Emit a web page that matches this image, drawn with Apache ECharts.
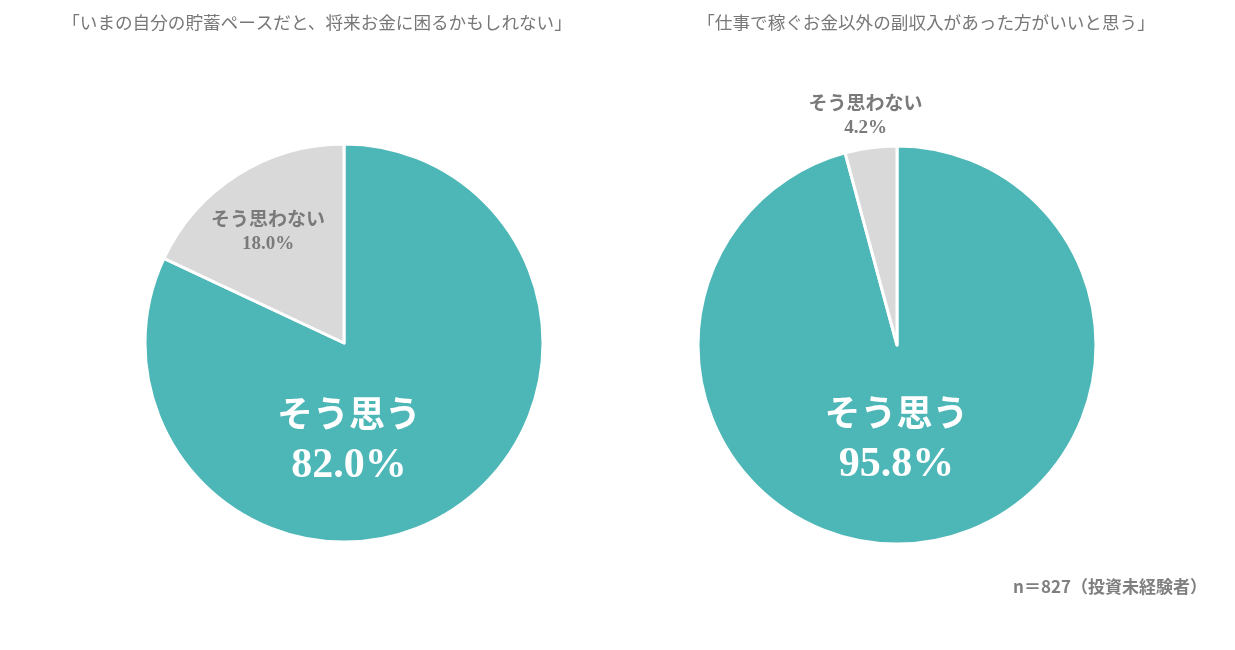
<!DOCTYPE html>
<html><head><meta charset="utf-8">
<script src="https://cdn.jsdelivr.net/npm/echarts@6/dist/echarts.min.js"></script>
<style>html,body{margin:0;padding:0;background:#fff}#c{width:1235px;height:650px}</style>
</head><body><div id="c"></div>
<script>
const titles = ['「いまの自分の貯蓄ペースだと、将来お金に困るかもしれない」', '「仕事で稼ぐお金以外の副収入があった方がいいと思う」'];
const categories = ['そう思う', 'そう思わない'];
const valuesLeft = [82.0, 18.0];
const valuesRight = [95.8, 4.2];
const note = 'n＝827（投資未経験者）';

const colors = ['#4db6b6', '#d9d9d9'];
const CJK = '"Noto Sans CJK JP", sans-serif';
const NUM = '"Liberation Serif", serif';

function bigLabel(offset) {
  return {
    show: true, position: 'inside', offset: offset,
    formatter: p => '{a|' + p.name + '}\n{b|' + p.value.toFixed(1) + '%}',
    rich: {
      a: { fontFamily: CJK, fontWeight: 'bold', fontSize: 36, color: '#fff', lineHeight: 56 },
      b: { fontFamily: NUM, fontWeight: 'bold', fontSize: 42, color: '#fff', lineHeight: 50 }
    }
  };
}
function smallLabel(offset) {
  return {
    show: true, position: 'inside', offset: offset,
    formatter: p => '{a|' + p.name + '}\n{b|' + p.value.toFixed(1) + '%}',
    rich: {
      a: { fontFamily: CJK, fontWeight: 'bold', fontSize: 19, color: '#7a7a7a', lineHeight: 28 },
      b: { fontFamily: NUM, fontWeight: 'bold', fontSize: 19, color: '#7a7a7a', lineHeight: 24 }
    }
  };
}
function mk(vals, center, labels) {
  return {
    type: 'pie', center: center, radius: 199, startAngle: 90, clockwise: true,
    avoidLabelOverlap: false, labelLine: { show: false },
    itemStyle: { borderColor: '#fff', borderWidth: 3 },
    emphasis: { disabled: true },
    data: categories.map((c, i) => ({ name: c, value: vals[i], itemStyle: { color: colors[i] }, label: labels[i] }))
  };
}

const chart = echarts.init(document.getElementById('c'), null, { renderer: 'canvas' });
chart.setOption({
  animation: false,
  title: [
    { text: titles[0], left: 312, top: 9, textAlign: 'center', textStyle: { fontFamily: CJK, fontSize: 17.6, fontWeight: 'normal', color: '#777' } },
    { text: titles[1], left: 921, top: 9, textAlign: 'center', textStyle: { fontFamily: CJK, fontSize: 17.6, fontWeight: 'normal', color: '#777' } },
    { text: note, left: 1008, top: 573, textStyle: { fontFamily: CJK, fontSize: 17, fontWeight: 'bold', color: '#7f7f7f' } }
  ],
  series: [
    mk(valuesLeft, [344, 343], [bigLabel([-50, 9]), smallLabel([-21, -26])]),
    mk(valuesRight, [897, 345], [bigLabel([-14, -9]), smallLabel([-18, -129])])
  ]
});
</script></body></html>
